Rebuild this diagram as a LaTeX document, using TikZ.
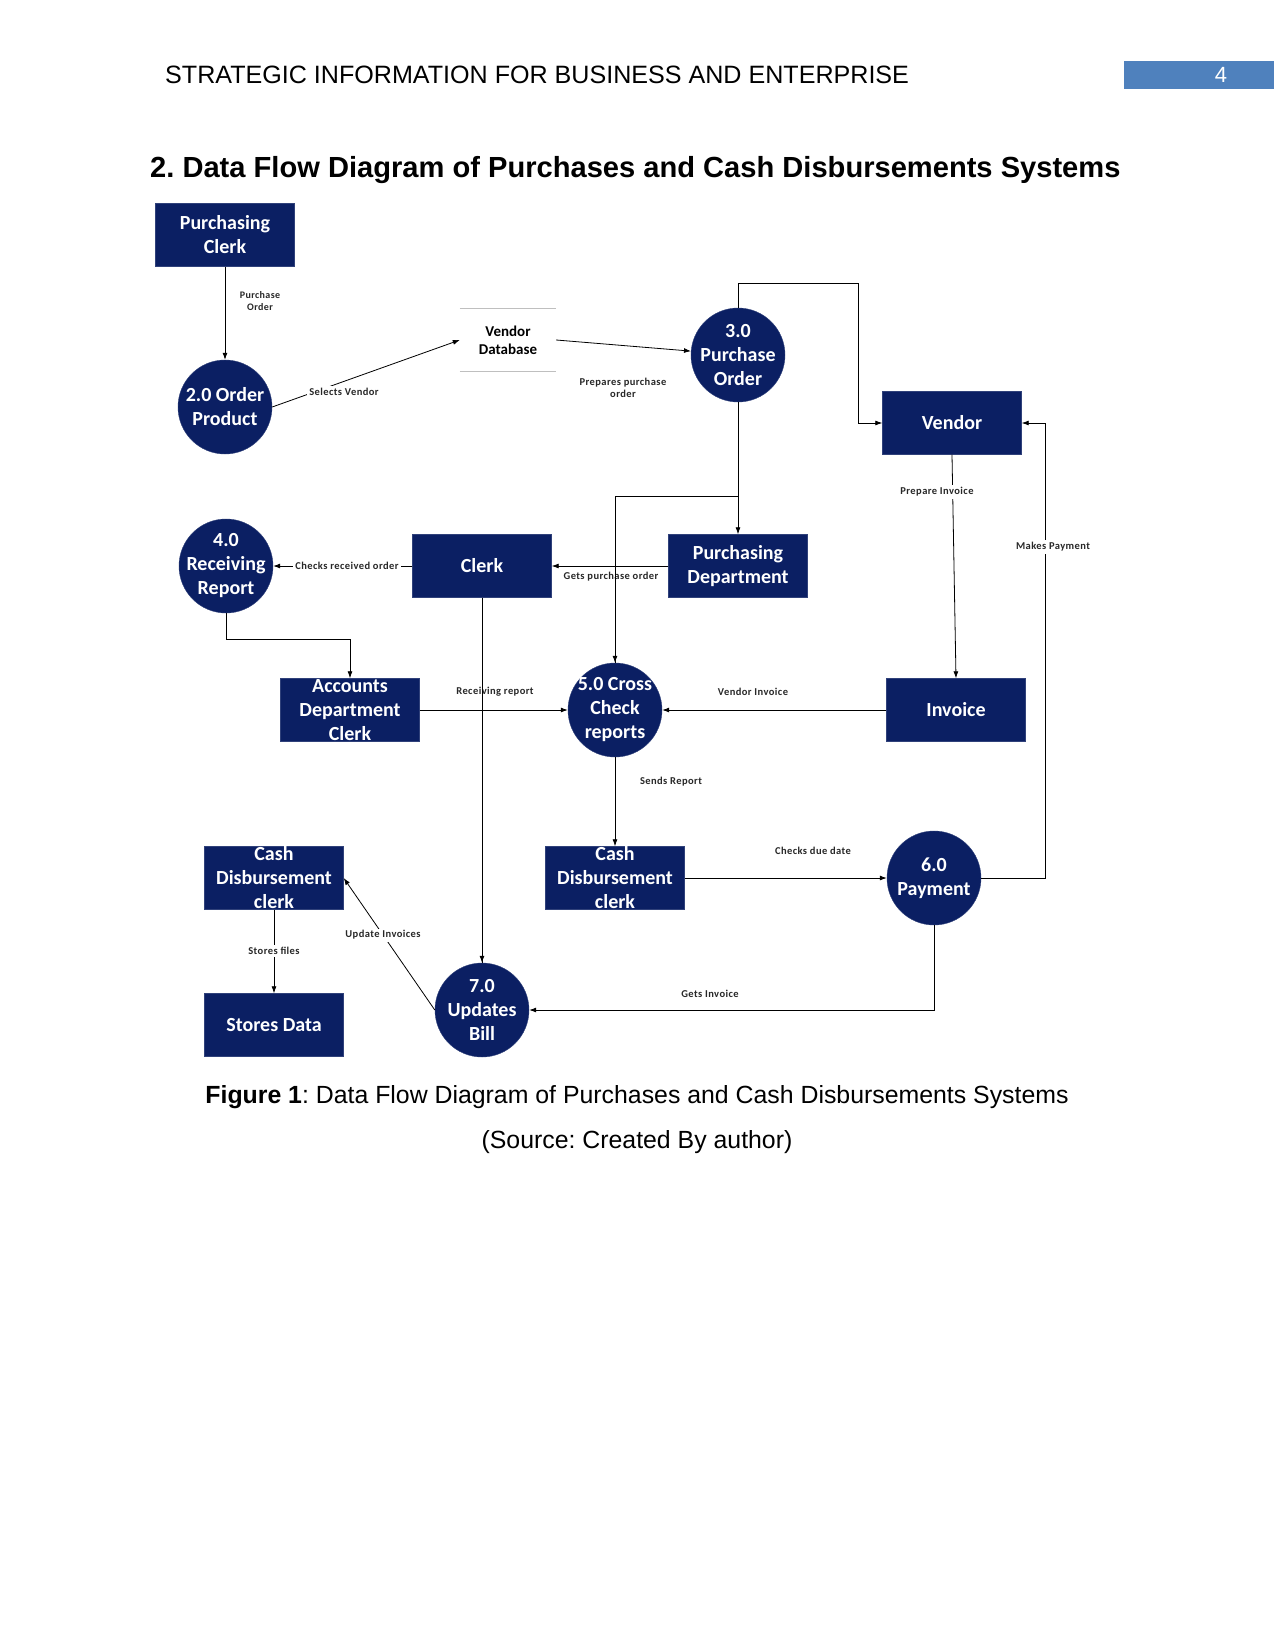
\documentclass[tikz,border=0pt]{standalone}
\usepackage{fontspec}
\setmainfont{Liberation Sans}
\newfontfamily\carlito{Carlito}
\newfontfamily\carlitolab[LetterSpace=4]{Carlito}
\usetikzlibrary{arrows.meta}
\definecolor{navy}{RGB}{11,31,99}
\definecolor{hdrblue}{RGB}{79,129,189}
\definecolor{lbl}{RGB}{40,40,40}
\frenchspacing
\begin{document}
\begin{tikzpicture}[x=1pt,y=-1pt,
  box/.style={fill=navy,draw=navy!85!white,minimum width=139pt,minimum height=63pt,inner sep=0pt},
  proc/.style={circle,fill=navy,draw=navy!85!white,minimum size=94pt,inner sep=0pt},
  wtext/.style={text=white,align=center,font=\carlito\bfseries\fontsize{20}{24}\selectfont,inner sep=0pt},
  btext/.style={text=black,align=center,font=\carlito\bfseries\fontsize{15}{18}\selectfont,inner sep=0pt},
  lab/.style={text=lbl,align=center,font=\carlitolab\bfseries\fontsize{10.5}{12.5}\selectfont,inner sep=2pt},
  wlab/.style={lab,fill=white},
  flow/.style={draw=black,line width=0.8pt,-{Latex[length=7pt,width=5pt]}},
  dbline/.style={draw=black!25,line width=0.8pt},
]
\useasboundingbox (0,0) rectangle (1275,1651);
\fill[white] (0,0) rectangle (1275,1651);

% header
\node[anchor=base west,inner sep=0,font=\fontsize{25.1}{29}\selectfont] (hdr) at (165,84) {STRATEGIC INFORMATION FOR BUSINESS AND ENTERPRISE};
\node[fill=hdrblue,minimum width=150pt,minimum height=28pt,anchor=north west,inner sep=0pt] (pg) at (1124,61) {};
\node[text=white,font=\fontsize{22}{26}\selectfont,inner sep=0] (pgn) at (1221,75) {4};
\node[anchor=base west,inner sep=0,font=\bfseries\fontsize{29.1}{33}\selectfont] (title) at (150,177) {2. Data Flow Diagram of Purchases and Cash Disbursements Systems};

% nodes
\node[box] (pc) at (225,235) {};
\node[wtext] (pct) at (pc) {Purchasing\\Clerk};
\node[proc] (op) at (225,407) {};
\node[wtext] (opt) at (op) {2.0 Order\\Product};
\node[minimum width=96pt,minimum height=63pt,inner sep=0pt] (vdb) at (508,340) {};
\node[btext] (vdbt) at (vdb) {Vendor\\Database};
\draw[dbline] (vdb.north west) -- (vdb.north east) (vdb.south west) -- (vdb.south east);
\node[proc] (po) at (738,355) {};
\node[wtext] (pot) at (po) {3.0\\Purchase\\Order};
\node[box] (ven) at (952,423) {};
\node[wtext] (vent) at (ven) {Vendor};
\node[proc] (rr) at (226,566) {};
\node[wtext] (rrt) at (rr) {4.0\\Receiving\\Report};
\node[box] (clk) at (482,566) {};
\node[wtext] (clkt) at (clk) {Clerk};
\node[box] (pd) at (738,566) {};
\node[wtext] (pdt) at (pd) {Purchasing\\Department};
\node[box] (adc) at (350,710) {};
\node[wtext] (adct) at (adc) {Accounts\\Department\\Clerk};
\node[proc] (cc) at (615,710) {};
\node[wtext] (cct) at (cc) {5.0 Cross\\Check\\reports};
\node[box] (inv) at (956,710) {};
\node[wtext] (invt) at (inv) {Invoice};
\node[box] (cdl) at (274,878) {};
\node[wtext] (cdlt) at (cdl) {Cash\\Disbursement\\clerk};
\node[box] (cdm) at (615,878) {};
\node[wtext] (cdmt) at (cdm) {Cash\\Disbursement\\clerk};
\node[proc] (pay) at (934,878) {};
\node[wtext] (payt) at (pay) {6.0\\Payment};
\node[box] (sd) at (274,1025) {};
\node[wtext] (sdt) at (sd) {Stores Data};
\node[proc] (ub) at (482,1010) {};
\node[wtext] (ubt) at (ub) {7.0\\Updates\\Bill};

% helper coordinates
\coordinate (k1) at (858,283);
\coordinate (k2) at (738,496);
\coordinate (k3) at (1045,878);

% flows
\draw[flow] (pc) -- (op);
\draw[flow] (op.east) -- (vdb.west);
\draw[flow] (vdb.east) -- (po);
\draw[flow] (po.north) |- (k1) |- (ven.west);
\draw[flow] (po.south) -- (pd.north);
\draw[flow] (k2) -| (cc.north);
\draw[flow] (pd.west) -- (clk.east);
\draw[flow] (clk.west) -- (rr.east);
\draw[flow] (rr.south) -- ++(0,26) -| (adc.north);
\draw[flow] (adc.east) -- (cc.west);
\draw[flow] (clk.south) -- (ub.north);
\draw[flow] (inv.west) -- (cc.east);
\draw[flow] (ven.south) -- (inv.north);
\draw[flow] (pay.east) -- (k3) |- (ven.east);
\draw[flow] (cc.south) -- (cdm.north);
\draw[flow] (cdm.east) -- (pay.west);
\draw[flow] (pay.south) |- (ub.east);
\draw[flow] (ub.west) -- (cdl.east);
\draw[flow] (cdl.south) -- (sd.north);

% labels
\node[lab,font=\carlitolab\bfseries\fontsize{10}{12}\selectfont] (l1) at (260,301) {Purchase\\Order};
\node[wlab] (l2) at (344,392) {Selects Vendor};
\node[lab] (l3) at (623,388) {Prepares purchase\\order};
\node[wlab] (l4) at (937,492) {Prepare Invoice};
\node[wlab] (l5) at (1053,547) {Makes Payment};
\node[wlab] (l6) at (347,566) {Checks received order};
\node[lab] (l7) at (611,577) {Gets purchase order};
\node[lab] (l8) at (495,692) {Receiving report};
\node[lab] (l9) at (753,692) {Vendor Invoice};
\node[lab] (l10) at (671,782) {Sends Report};
\node[lab] (l11) at (813,851) {Checks due date};
\node[lab] (l12) at (710,994) {Gets Invoice};
\node[wlab] (l13) at (383,935) {Update Invoices};
\node[wlab] (l14) at (274,951) {Stores files};
\draw[draw=black,line width=0.8pt] (clk.south) -- (ub.north);
\draw[draw=black,line width=0.8pt] (k2) -| (cc.north);

% caption
\node[anchor=base,inner sep=0,font=\fontsize{24.85}{29}\selectfont] (cap1) at (637,1103) {\textbf{Figure 1}: Data Flow Diagram of Purchases and Cash Disbursements Systems};
\node[anchor=base,inner sep=0,font=\fontsize{24.85}{29}\selectfont] (cap2) at (637,1148) {(Source: Created By author)};
\end{tikzpicture}
\end{document}
